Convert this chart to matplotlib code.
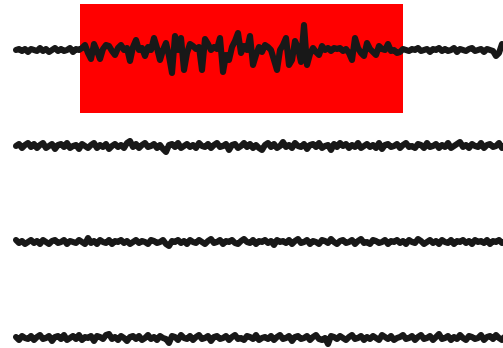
import numpy as np
import matplotlib
matplotlib.use("Agg")
import matplotlib.pyplot as plt

# four channels, one value per sample (arbitrary units, positive = up)
ch1 = [0, 1, -1, 1, -2, 1, 0, -1, 2, -1, 1, -2, 0, 2, -1, 1, -1, 0, 2, -2, 1, 0,
       2, 5, -3, -9, 6, -1, -9, 1, 5, 4,
       -1, -5, 2, 5, 0, 2, -11, 3, 10, 0,
       2, -6, 3, 0, 12, 2, -10, 0, 7, -6,
       -23, 14, 0, 12, -20, -3, 6, 4, 1, 3,
       -20, 11, 6, 0, 3, 1, 12, -22, -5, -10,
       3, 9, 17, -3, 4, 0, 14, -15, -5, 3,
       -2, 5, 3, 0, -10, -20, 0, 5, 12, -15,
       -10, 9, 2, -12, 25, -15, -4, 2, -2, -5,
       4, 0, 2, -1, 2, 1, 2, -1, 1, -3,
       -10, 12, 2, -3, -6, 7, 1, -2, -5, 4,
       1, 0, 6, -1, 0, -3, -2, 1,
       0, -1, 1, 0, 2, -1, 0, 1, -2, 1, 0, 2, -1, 1, -1, 0, 2, -2, 1, 0,
       -1, 1, 2, -1, 0, 1, -2, 1, 0, -1, -6, -3, 6, 2]

ch2 = [0, 2, -2, 1, 3, -1, 2, -2, 1, 3,
       -2, 0, 2, -3, 1, 2, -1, 3, -2, 0,
       1, -3, 2, 0, -2, 1, 3, -2, 1, -1,
       2, -3, 0, 2, -1, 1, -2, 3, 5, -1,
       2, -2, 1, 3, -1, 0, 2, -2, 1, -3,
       -6, 1, 2, -1, 3, -2, 0, 2, -1, 1,
       -2, 3, 0, -1, 2, -2, 1, 3, -1, 0,
       2, -4, 1, 2, -2, 0, 3, -1, 2, -2,
       1, -2, -4, 1, 3, -1, 2, -2, 0, 4,
       -1, 1, -2, 3, 0, -1, 2, -3, 1, 2,
       -1, 3, -2, 0, 1, -4, 2, -1, 3, 0,
       2, -2, 1, -1, 3, -2, 0, 2, -1, 1,
       -2, 3, -3, 1, 2, -1, 0, 2, -2, 1,
       3, -1, 0, -2, 2, 1, -2, 3, -1, 0,
       2, -2, 1, -1, 3, -2, 0, 2, 4, -1,
       1, -2, 2, 0, -1, 3, -2, 1, 2, -1,
       0, 3, -2, 1]

ch3 = [2, -1, 1, -2, 0, 2, -1, 1, -2, 2,
       0, -2, 1, 2, -1, 0, 2, -2, 1, 0,
       -1, 2, 0, -2, 4, -1, 1, -2, 2, 0,
       -1, 2, -2, 1, 0, 2, -1, 1, -2, 0,
       2, -1, 1, 0, -2, 2, 1, -1, 0, 2,
       -2, -4, 1, 0, 2, -1, 1, -2, 2, 0,
       -1, 2, 0, -2, 1, 3, -1, 0, 2, -2,
       1, 0, 2, -1, -2, 1, 3, 0, -1, 2,
       -2, 1, 0, 2, -1, 1, -3, 2, 0, 1,
       -1, 2, -2, 1, 3, -1, 0, 2, -2, 1,
       0, -2, 2, 1, -1, 3, 0, -2, 1, 2,
       -1, 0, 2, -2, 1, 3, -1, 0, -2, 2,
       1, -1, 0, 2, -2, 1, 0, 2, -1, 1,
       -2, 2, 0, -1, 3, 1, -2, 0, 2, -1,
       1, -2, 2, 0, -1, 2, -2, 1, 0, 2,
       -1, 1, -2, 2, 0, 1, -1, 2, -2, 1,
       0, 2, -1, 1]

ch4 = [1, -2, 2, 0, -1, 2, -2, 1, 3, -1,
       0, 2, -3, 1, 2, -1, 3, -2, 0, 2,
       -1, 3, -2, 1, 0, 2, -3, 2, 1, -1,
       3, 4, -1, 1, -2, 2, 0, -3, 1, 2,
       -1, 2, -2, 0, 3, -1, 1, -2, 2, 0,
       -1, -5, 2, 1, -2, 3, 0, -1, 2, -2,
       1, 3, -1, 0, 2, -3, 1, 2, -1, 0,
       2, -2, 1, 3, -1, 0, -2, 2, 1, -1,
       3, -2, 0, 1, -1, 2, -2, 1, 3, -1,
       0, 2, -3, 1, 2, -1, 0, 2, -2, 1,
       3, -1, -2, 0, -6, 2, 1, -1, 2, 0,
       -2, 1, 3, -1, 0, 2, -2, 1, -1, 2,
       0, -2, 3, 1, -1, 2, -2, 0, 1, 3,
       -1, 0, 2, -2, 1, 3, -1, 0, 2, -2,
       1, 4, -1, 0, 2, -2, 1, -1, 3, 0,
       -2, 2, 1, -1, 0, 3, -2, 1, 2, -1,
       3, 0, -2, 2]

channels = [ch1, ch2, ch3, ch4]

# highlighted window on channel 1 (sample indices)
win_start, win_end = 21.3, 129.0

spacing = 96
fig = plt.figure(figsize=(5.03, 3.48), dpi=100)
ax = fig.add_axes([0, 0, 1, 1])
ax.axis('off')

ax.add_patch(plt.Rectangle((win_start, -113), win_end - win_start, 109,
                           color='#ff0000', lw=0, zorder=1))

for i, ch in enumerate(channels):
    y = np.array(ch, dtype=float)
    t = np.arange(len(y))
    ax.plot(t, y - 50 - spacing * i, color='#181818', lw=4.4,
            solid_capstyle='round', solid_joinstyle='round', zorder=2)

ax.set_xlim(-16 / 3, 487 / 3)
ax.set_ylim(-348, 0)

fig.savefig('out.png', dpi=100)
